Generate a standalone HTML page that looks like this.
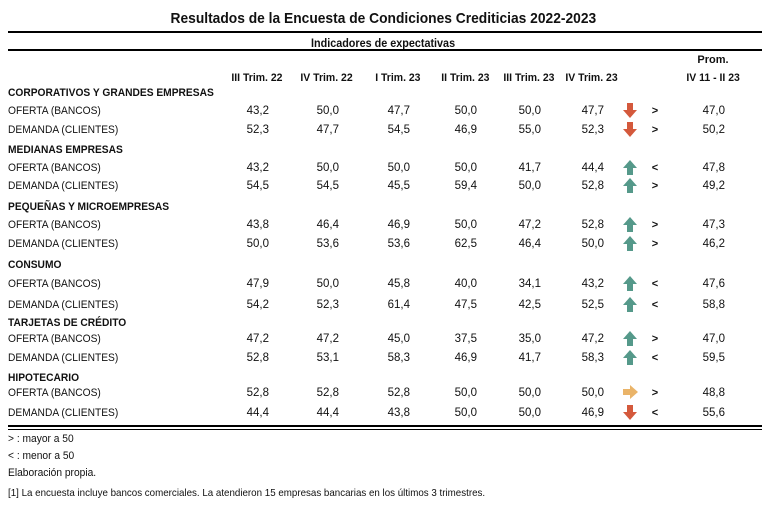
<!DOCTYPE html>
<html><head><meta charset="utf-8">
<style>
body{margin:0;width:767px;height:506px;background:#fff;position:relative;overflow:hidden;font-family:"Liberation Sans",sans-serif;color:#111}
.t{position:absolute;white-space:nowrap;font-size:11px;line-height:12px}
.l{transform:scaleX(0.93);transform-origin:left center}
.b{font-weight:bold}
.r{text-align:right}
.c{text-align:center}
.hr{position:absolute;left:8px;width:754px;background:#000}
</style></head><body>
<div class="t b c" style="left:0;width:767px;top:10px;font-size:15px;line-height:17px"><span style="display:inline-block;transform:scaleX(0.92)">Resultados de la Encuesta de Condiciones Crediticias 2022-2023</span></div>
<div class="hr" style="top:31px;height:2px"></div>
<div class="t b c" style="left:0;width:767px;top:36px;font-size:12px;line-height:14px"><span style="display:inline-block;transform:scaleX(0.9)">Indicadores de expectativas</span></div>
<div class="hr" style="top:49px;height:2px"></div>
<div class="hr" style="top:425px;height:2px"></div>
<div class="hr" style="top:429px;height:1px"></div>
<div class="t l" style="left:8px;top:433px">&gt; : mayor a 50</div>
<div class="t l" style="left:8px;top:450px">&lt; : menor a 50</div>
<div class="t l" style="left:8px;top:467px">Elaboración propia.</div>
<div class="t l" style="left:8px;top:487px;font-size:10.5px">[1] La encuesta incluye bancos comerciales. La atendieron 15 empresas bancarias en los últimos 3 trimestres.</div>
<div id="tbl"></div>
<script>
const columns=["III Trim. 22","IV Trim. 22","I Trim. 23","II Trim. 23","III Trim. 23","IV Trim. 23"];
const sections=["CORPORATIVOS Y GRANDES EMPRESAS","MEDIANAS EMPRESAS","PEQUEÑAS Y MICROEMPRESAS","CONSUMO","TARJETAS DE CRÉDITO","HIPOTECARIO"];
const rowLabels=["OFERTA (BANCOS)","DEMANDA (CLIENTES)"];
const values=[
["43,2","50,0","47,7","50,0","50,0","47,7"],["52,3","47,7","54,5","46,9","55,0","52,3"],
["43,2","50,0","50,0","50,0","41,7","44,4"],["54,5","54,5","45,5","59,4","50,0","52,8"],
["43,8","46,4","46,9","50,0","47,2","52,8"],["50,0","53,6","53,6","62,5","46,4","50,0"],
["47,9","50,0","45,8","40,0","34,1","43,2"],["54,2","52,3","61,4","47,5","42,5","52,5"],
["47,2","47,2","45,0","37,5","35,0","47,2"],["52,8","53,1","58,3","46,9","41,7","58,3"],
["52,8","52,8","52,8","50,0","50,0","50,0"],["44,4","44,4","43,8","50,0","50,0","46,9"]];
const trends=["down","down","up","up","up","up","up","up","up","up","right","down"];
const signs=[">",">","<",">",">",">","<","<",">","<",">","<"];
const averages=["47,0","50,2","47,8","49,2","47,3","46,2","47,6","58,8","47,0","59,5","48,8","55,6"];
const secY=[93,150,207,265,323,378];
const rowY=[[111,130],[168,186],[225,244],[284,305],[339,358],[393,413]];
const colRight=[269,339,410,477,541,604];
const root=document.getElementById('tbl');
function txt(s,x,y,cls,w,align){const d=document.createElement('div');d.className='t '+cls;d.textContent=s;d.style.top=(y-6)+'px';
 if(align==='r'){d.style.left=(x-w)+'px';d.style.width=w+'px';}else if(align==='c'){d.style.left=(x-w/2)+'px';d.style.width=w+'px';}else d.style.left=x+'px';
 root.appendChild(d);return d;}
columns.forEach((c,i)=>{const d=txt(c,colRight[i]-12,78,'b c',80,'c');d.innerHTML='<span style="display:inline-block;transform:scaleX(0.95)">'+c+'</span>';

});
let p=txt('Prom.',713,60,'b c',80,'c');


p=txt('IV 11 - II 23',713,78,'b c',80,'c');p.innerHTML='<span style="display:inline-block;transform:scaleX(0.95)">IV 11 - II 23</span>';


const arrowPaths={down:"M4 0h6v7h4l-7 8-7-8h4z",up:"M4 15h6V8h4L7 0 0 8h4z",right:"M0 4h7V0l8 7-8 7v-4H0z"};
const arrowCol={down:"#d4593c",up:"#55998a",right:"#eab469"};
sections.forEach((s,si)=>{
 const h=txt(s,8,secY[si],'b l',0,'l');
 
 
 rowLabels.forEach((lab,ri)=>{
  const k=si*2+ri,y=rowY[si][ri];
  const L=txt(lab,8,y,'l',0,'l');
  
  
  values[k].forEach((v,ci)=>{const d=txt(v,colRight[ci],y,'r',40,'r');d.style.fontSize='11.5px';
   
   });
  const ns='http://www.w3.org/2000/svg';const sv=document.createElementNS(ns,'svg');
  sv.setAttribute('width','15');sv.setAttribute('height','15');
  sv.style.position='absolute';sv.style.left='623px';sv.style.top=(y-8)+'px';
  const pa=document.createElementNS(ns,'path');pa.setAttribute('d',arrowPaths[trends[k]]);pa.setAttribute('fill',arrowCol[trends[k]]);
  sv.appendChild(pa);root.appendChild(sv);
  
  
  const sg=txt(signs[k],655,y,'b c',12,'c');
  
  
  const a=txt(averages[k],725,y,'r',40,'r');a.style.fontSize='11.5px';
  
  
 });
});
</script>
</body></html>
